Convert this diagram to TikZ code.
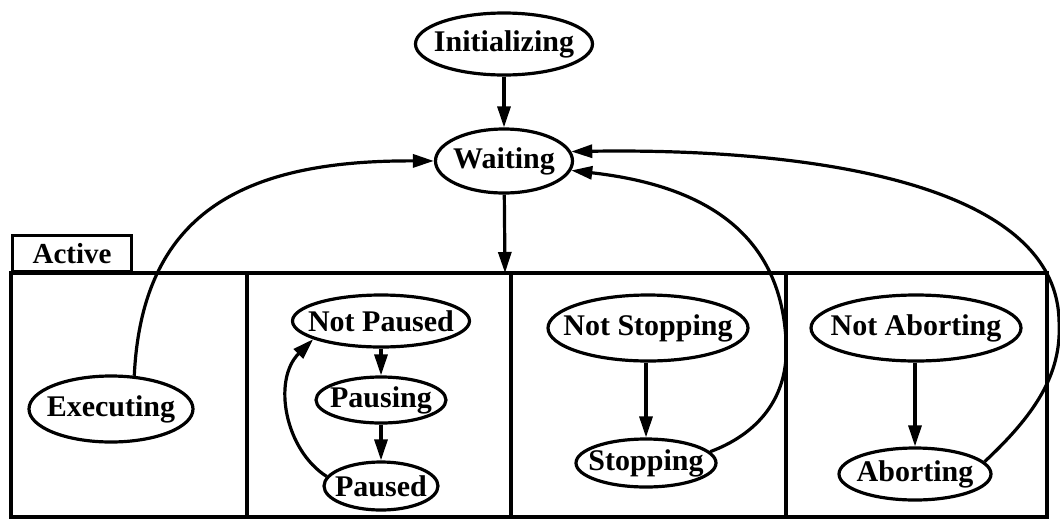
\documentclass[tikz,border=0pt]{standalone}
\usepackage{fontspec}
\setmainfont{Liberation Serif}
\usetikzlibrary{arrows.meta,shapes.geometric}

\begin{document}
\begin{tikzpicture}[x=1pt,y=-1pt,>={Triangle[length=21pt,width=13pt]},line width=3.2pt,
  state/.style={ellipse,draw,inner xsep=-40pt,inner ysep=-12pt,font=\fontsize{30}{33}\selectfont\bfseries},
  tab/.style={draw,inner sep=0pt,minimum width=119pt,minimum height=36pt,font=\fontsize{29}{32}\selectfont\bfseries}]
  \useasboundingbox (0,0) rectangle (1060,520);
  % top states
  \node[state,minimum width=177pt,minimum height=62pt] (init) at (504,44) {Initializing};
  \node[state,minimum width=137pt,minimum height=64pt] (wait) at (504,161) {Waiting};
  % active superstate
  \draw (11,273) rectangle (1047,517);
  \foreach \x in {247,511,786}{\draw (\x,273) -- (\x,517);}
  \node[tab,anchor=south west] (active) at (11,273) {Active};
  \coordinate (acttop) at (505,273);
  % regions
  \node[state,minimum width=164pt,minimum height=66pt] (exec) at (111,409) {Executing};
  \node[state,minimum width=177pt,minimum height=52pt] (notpaused) at (381,321) {Not Paused};
  \node[state,minimum width=130pt,minimum height=46pt] (pausing) at (381,400) {Pausing};
  \node[state,minimum width=114pt,minimum height=48pt] (paused) at (381,486) {Paused};
  \node[state,minimum width=200pt,minimum height=66pt] (notstop) at (648,328) {Not Stopping};
  \node[state,minimum width=140pt,minimum height=48pt] (stop) at (646,463) {Stopping};
  \node[state,minimum width=210pt,minimum height=66pt] (notabort) at (916,328) {Not Aborting};
  \node[state,minimum width=152pt,minimum height=52pt] (abort) at (915,474) {Aborting};
  % transitions
  \draw[->] (init) -- (wait);
  \draw[->] (wait) -- (acttop);
  \draw[->] (exec.55) .. controls (142,215) and (240,160) .. (wait.west);
  \draw[->] (notpaused.south -| pausing) -- (pausing);
  \draw[->] (pausing) -- (paused);
  \draw[->] (paused.170) .. controls (285,450) and (272,380) .. (notpaused.195);
  \draw[->] (notstop.south -| stop) -- (stop);
  \draw[->] (notabort.south -| abort) -- (abort);
  \draw[->] (stop.10) .. controls (755,435) and (790,400) .. (786,340) .. controls (780,230) and (700,185) .. (wait.-8);
  \draw[->] (abort.10) .. controls (1040,410) and (1062,370) .. (1059,320) .. controls (1055,180) and (800,148) .. (wait.8);
\end{tikzpicture}
\end{document}
